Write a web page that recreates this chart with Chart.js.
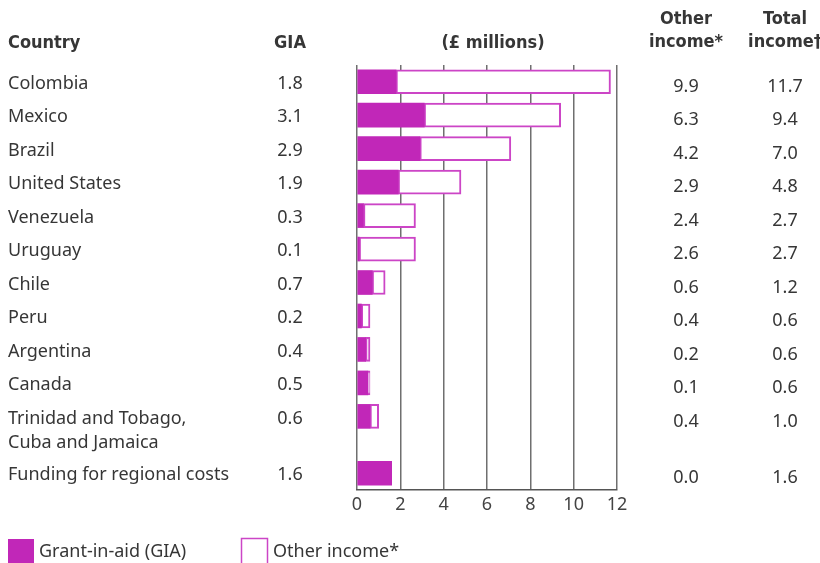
<!DOCTYPE html>
<html>
<head>
<meta charset="utf-8">
<script src="https://cdn.jsdelivr.net/npm/chart.js@4"></script>
<style>
  body { margin: 0; background: #fff; }
</style>
</head>
<body>
<canvas id="incomeChart" width="820" height="563"></canvas>
<script>
// data
var countries = ['Colombia', 'Mexico', 'Brazil', 'United States', 'Venezuela', 'Uruguay',
    'Chile', 'Peru', 'Argentina', 'Canada', 'Trinidad and Tobago,\nCuba and Jamaica',
    'Funding for regional costs'];
var gia = [1.8, 3.1, 2.9, 1.9, 0.3, 0.1, 0.7, 0.2, 0.4, 0.5, 0.6, 1.6];
var otherIncome = [9.9, 6.3, 4.2, 2.9, 2.4, 2.6, 0.6, 0.4, 0.2, 0.1, 0.4, 0.0];
var totalIncome = [11.7, 9.4, 7.0, 4.8, 2.7, 2.7, 1.2, 0.6, 0.6, 0.6, 1.0, 1.6];
var xTicks = [0, 2, 4, 6, 8, 10, 12];

var purple = '#c127b8';
var outline = '#cc45c6';
var textColor = '#363636';
var bodyFont = '18px "Noto Sans", sans-serif';
var headFont = 'bold 18px "DejaVu Sans Condensed", "DejaVu Sans", sans-serif';

// last row sits a bit lower, the row above it wraps to two lines
function rowPos(i) {
    return i < countries.length - 1 ? i : i + 0.7;
}

function points(values) {
    return values.map(function (v, i) { return { x: v, y: rowPos(i) }; });
}

var tablePlugin = {
    id: 'tableText',
    afterDraw: function (chart) {
        var ctx = chart.ctx;
        var y = chart.scales.y;
        ctx.save();
        ctx.fillStyle = textColor;
        ctx.textBaseline = 'middle';

        // headers
        ctx.font = headFont;
        ctx.textAlign = 'left';
        ctx.fillText('Country', 8, 43);
        ctx.textAlign = 'center';
        ctx.fillText('GIA', 290, 43);
        ctx.fillText('(£ millions)', 493, 43);
        ctx.fillText('Other', 686, 19);
        ctx.fillText('income*', 686, 42);
        ctx.fillText('Total', 785, 19);
        ctx.fillText('income\u2020', 785, 42);

        // rows
        ctx.font = bodyFont;
        countries.forEach(function (name, i) {
            var py = y.getPixelForValue(rowPos(i)) + 2;
            ctx.textAlign = 'left';
            name.split('\n').forEach(function (line, k) {
                ctx.fillText(line, 8, py + k * 24);
            });
            ctx.textAlign = 'center';
            ctx.fillText(gia[i].toFixed(1), 290, py);
            ctx.fillText(otherIncome[i].toFixed(1), 686, py + 3);
            ctx.fillText(totalIncome[i].toFixed(1), 785, py + 3);
        });

        // legend
        ctx.fillStyle = purple;
        ctx.fillRect(8, 539, 26, 26);
        ctx.strokeStyle = outline;
        ctx.lineWidth = 1.5;
        ctx.strokeRect(241.5, 538.5, 26, 26);
        ctx.fillStyle = textColor;
        ctx.textAlign = 'left';
        ctx.fillText('Grant-in-aid (GIA)', 39, 552);
        ctx.fillText('Other income*', 273, 552);
        ctx.restore();
    }
};

var ctx = document.getElementById('incomeChart').getContext('2d');
var incomeChart = new Chart(ctx, {
    type: 'bar',
    data: {
        datasets: [{
            label: 'Grant-in-aid (GIA)',
            data: points(gia),
            backgroundColor: purple,
            borderWidth: 0,
            barThickness: 24
        }, {
            label: 'Other income*',
            data: points(otherIncome),
            backgroundColor: '#ffffff',
            borderColor: outline,
            borderWidth: 2,
            borderSkipped: false,
            barThickness: 24
        }]
    },
    options: {
        indexAxis: 'y',
        responsive: false,
        animation: false,
        layout: { padding: { left: 357, right: 203, top: 65, bottom: 33 } },
        plugins: {
            legend: { display: false },
            tooltip: { enabled: false }
        },
        scales: {
            x: {
                type: 'linear',
                stacked: true,
                min: 0,
                max: 12,
                afterBuildTicks: function (scale) {
                    scale.ticks = xTicks.map(function (v) { return { value: v }; });
                },
                afterFit: function (scale) { scale.height = 40; },
                grid: { color: '#6f6f6f', lineWidth: 1.5, drawTicks: false },
                border: { display: true, color: '#555', width: 1.5 },
                ticks: { color: '#444', font: { family: 'Noto Sans', size: 18 }, padding: 4 }
            },
            y: {
                type: 'linear',
                stacked: true,
                reverse: true,
                offset: false,
                min: -0.5,
                max: 12.2,
                display: false
            }
        }
    },
    plugins: [tablePlugin]
});
</script>
</body>
</html>
